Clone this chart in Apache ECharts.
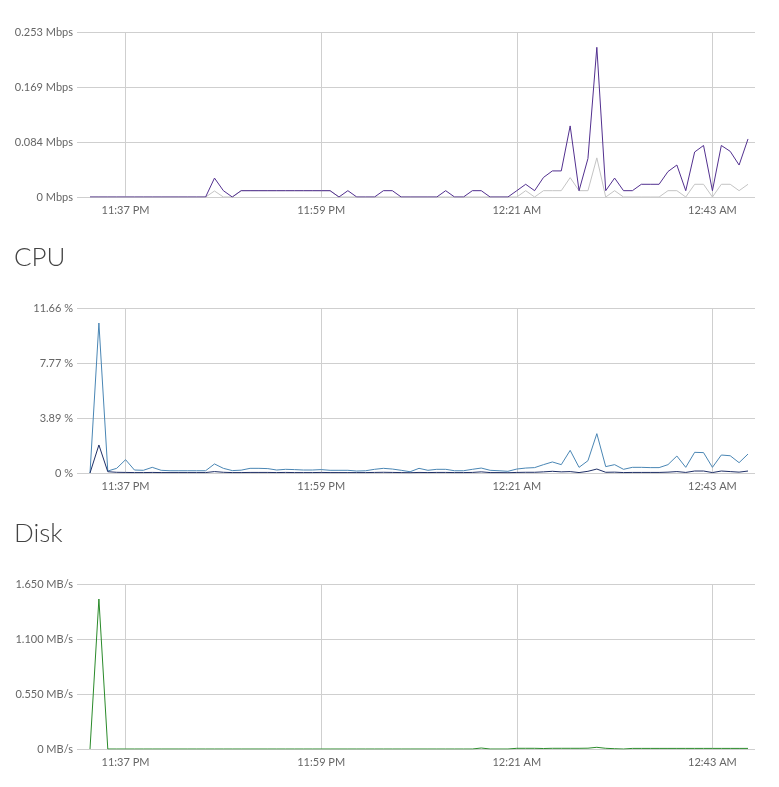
<!DOCTYPE html>
<html>
<head>
<meta charset="utf-8">
<script src="https://cdn.jsdelivr.net/npm/echarts@6/dist/echarts.min.js"></script>
<style>
  html, body { margin: 0; padding: 0; background: #fff; }
  #main { width: 779px; height: 787px; }
</style>
</head>
<body>
<div id="main"></div>
<script>
// one point per minute, 11:33 PM .. 12:47 AM
var startMinute = 23 * 60 + 33;
var pointCount = 75;
var times = [];
for (var i = 0; i < pointCount; i++) {
    var m = (startMinute + i) % 1440;
    var h = Math.floor(m / 60), mm = m % 60;
    times.push((h % 12 || 12) + ':' + (mm < 10 ? '0' : '') + mm + (h >= 12 ? ' PM' : ' AM'));
}
var tickTimes = ['11:37 PM', '11:59 PM', '12:21 AM', '12:43 AM'];

// bandwidth (Mbps)
var bwMax = 0.253;
var bwOut = [
    0, 0, 0, 0, 0, 0, 0, 0, 0, 0, 0, 0, 0, 0, 0.029, 0.0097, 0, 0.0097, 0.0097, 0.0097,
    0.0097, 0.0097, 0.0097, 0.0097, 0.0097, 0.0097, 0.0097, 0.0097, 0, 0.0097, 0, 0, 0, 0.0097, 0.0097, 0, 0, 0, 0, 0,
    0.0097, 0, 0, 0.0097, 0.0097, 0, 0, 0, 0.0097, 0.0195, 0.0097, 0.030, 0.040, 0.040, 0.109, 0.0097, 0.059, 0.2295, 0.0097, 0.029,
    0.0097, 0.0097, 0.0195, 0.0195, 0.0195, 0.039, 0.049, 0.0097, 0.069, 0.079, 0.0097, 0.079, 0.070, 0.049, 0.089
];
var bwIn = [
    0, 0, 0, 0, 0, 0, 0, 0, 0, 0, 0, 0, 0, 0, 0.0092, 0, 0, 0.0097, 0.0097, 0.0097,
    0.0097, 0.0097, 0.0097, 0.0097, 0.0097, 0.0097, 0.0097, 0.0097, 0, 0, 0, 0, 0, 0, 0, 0, 0, 0, 0, 0,
    0, 0, 0, 0, 0, 0, 0, 0, 0, 0.0097, 0, 0.0097, 0.0097, 0.0097, 0.0297, 0.0097, 0.0097, 0.060, 0, 0.0097,
    0, 0, 0, 0, 0, 0.0097, 0.0097, 0, 0.0195, 0.0195, 0, 0.0195, 0.0195, 0.0097, 0.0195
];

// CPU (%)
var cpuMax = 11.66;
var cpuTotal = [
    0, 10.6, 0.14, 0.33, 0.94, 0.21, 0.19, 0.40, 0.19, 0.16, 0.16, 0.16, 0.16, 0.16, 0.64, 0.33, 0.17, 0.20, 0.33, 0.33,
    0.31, 0.21, 0.26, 0.24, 0.21, 0.21, 0.24, 0.19, 0.19, 0.19, 0.14, 0.16, 0.26, 0.33, 0.28, 0.19, 0.09, 0.33, 0.19, 0.26,
    0.26, 0.16, 0.16, 0.26, 0.35, 0.19, 0.16, 0.12, 0.28, 0.35, 0.38, 0.59, 0.78, 0.59, 1.60, 0.40, 0.87, 2.78, 0.45, 0.59,
    0.26, 0.40, 0.40, 0.38, 0.38, 0.59, 1.20, 0.40, 1.46, 1.44, 0.40, 1.27, 1.22, 0.73, 1.34
];
var cpuSystem = [
    0, 1.98, 0.09, 0.05, 0.04, 0.03, 0.03, 0.04, 0.03, 0.03, 0.03, 0.03, 0.03, 0.03, 0.10, 0.05, 0.03, 0.03, 0.04, 0.04,
    0.04, 0.03, 0.04, 0.03, 0.03, 0.03, 0.04, 0.03, 0.03, 0.03, 0.03, 0.03, 0.04, 0.05, 0.04, 0.03, 0.02, 0.04, 0.03, 0.04,
    0.04, 0.03, 0.03, 0.04, 0.08, 0.03, 0.03, 0.02, 0.04, 0.05, 0.05, 0.08, 0.12, 0.08, 0.10, 0.03, 0.12, 0.28, 0.05, 0.06,
    0.03, 0.04, 0.04, 0.04, 0.04, 0.06, 0.10, 0.04, 0.14, 0.14, 0.03, 0.14, 0.10, 0.06, 0.14
];

// Disk (MB/s)
var diskMax = 1.65;
var diskIo = [
    0, 1.50, 0, 0, 0, 0, 0, 0, 0, 0, 0, 0, 0, 0, 0, 0, 0, 0, 0, 0,
    0, 0, 0, 0, 0, 0, 0, 0, 0, 0, 0, 0, 0, 0, 0, 0, 0, 0, 0, 0,
    0, 0, 0, 0, 0.010, 0, 0, 0, 0.007, 0.007, 0.007, 0.005, 0.007, 0.007, 0.007, 0.007, 0.008, 0.017, 0.007, 0.003,
    0, 0.006, 0.006, 0.006, 0.006, 0.006, 0.006, 0.006, 0.006, 0.006, 0.006, 0.006, 0.006, 0.006, 0.006
];

var font = 'Lato';
var gridColor = '#cfcfcf';
var labelColor = '#666';
var gridTops = [32, 308, 584];

var showTick = function (index, value) {
    return tickTimes.indexOf(value) >= 0;
};

var fmt = function (unit, digits) {
    return function (v) {
        return (v === 0 ? '0' : v.toFixed(digits)) + ' ' + unit;
    };
};

var grids = [], xAxes = [], yAxes = [];
var panels = [
    { max: bwMax, label: fmt('Mbps', 3) },
    { max: cpuMax, label: fmt('%', 2) },
    { max: diskMax, label: fmt('MB/s', 3) }
];
panels.forEach(function (p, k) {
    grids.push({ left: 90, right: 31, top: gridTops[k], height: 165 });
    xAxes.push({
        type: 'category',
        gridIndex: k,
        data: times,
        boundaryGap: false,
        axisLine: { show: false },
        axisTick: { show: false },
        axisLabel: { interval: showTick, color: labelColor, fontSize: 11, fontFamily: font, margin: 8 },
        splitLine: { show: true, interval: showTick, lineStyle: { color: gridColor, width: 1 } }
    });
    // left axis: labels + gridlines, ticks stretch the gridlines out to the left
    yAxes.push({
        type: 'value',
        gridIndex: k,
        min: 0,
        max: p.max,
        interval: p.max / 3,
        axisLine: { show: false },
        axisTick: { show: true, length: 13, lineStyle: { color: gridColor } },
        axisLabel: { margin: 17, color: labelColor, fontSize: 11, fontFamily: font, formatter: p.label },
        splitLine: { lineStyle: { color: gridColor, width: 1 } }
    });
    // right axis only to stretch the gridlines a bit past the last point
    yAxes.push({
        type: 'value',
        gridIndex: k,
        position: 'right',
        min: 0,
        max: p.max,
        interval: p.max / 3,
        axisLine: { show: false },
        axisTick: { show: true, length: 7, lineStyle: { color: gridColor } },
        axisLabel: { show: false },
        splitLine: { show: false }
    });
});

var lineSeries = function (name, data, k, color) {
    return {
        name: name,
        type: 'line',
        xAxisIndex: k,
        yAxisIndex: k * 2,
        data: data,
        showSymbol: false,
        symbol: 'none',
        lineStyle: { color: color, width: 1 },
        itemStyle: { color: color }
    };
};

var titleStyle = { fontFamily: font, fontSize: 26, fontWeight: 300, color: '#444' };

var option = {
    animation: false,
    backgroundColor: '#fff',
    title: [
        { text: 'CPU', left: 9, top: 240, textStyle: titleStyle },
        { text: 'Disk', left: 9, top: 516, textStyle: titleStyle }
    ],
    grid: grids,
    xAxis: xAxes,
    yAxis: yAxes,
    series: [
        lineSeries('Inbound', bwIn, 0, '#c4c4c4'),
        lineSeries('Outbound', bwOut, 0, '#52308f'),
        lineSeries('CPU total', cpuTotal, 1, '#4a86b4'),
        lineSeries('CPU system', cpuSystem, 1, '#1f2f66'),
        lineSeries('Disk I/O', diskIo, 2, '#2a8a2a')
    ]
};

var myChart = echarts.init(document.getElementById('main'));
myChart.setOption(option);
</script>
</body>
</html>
